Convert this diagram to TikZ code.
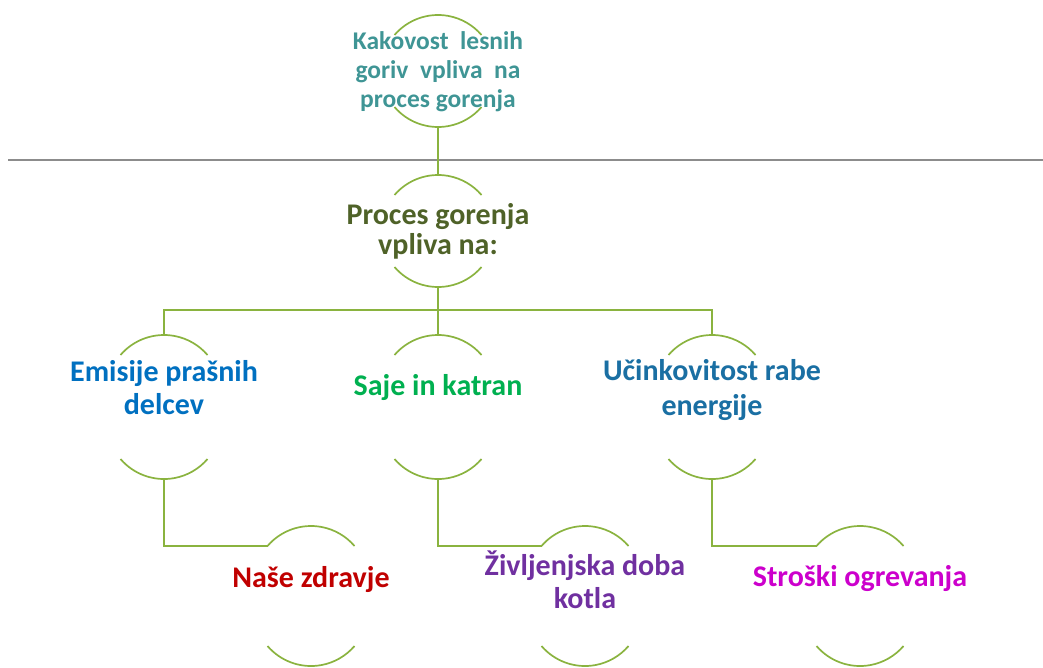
\documentclass[tikz,border=0pt]{standalone}
\usepackage{fontspec}
\setmainfont{Carlito}
\definecolor{lineg}{HTML}{8AB33F}
\definecolor{cteal}{HTML}{3F9595}
\definecolor{colive}{HTML}{4F6228}
\definecolor{cblue}{HTML}{0070C0}
\definecolor{cgreen}{HTML}{00B050}
\definecolor{cpetrol}{HTML}{1A6FA3}
\definecolor{cred}{HTML}{C00000}
\definecolor{cpurple}{HTML}{7030A0}
\definecolor{cmag}{HTML}{CC00CC}
\definecolor{rule}{HTML}{8C8C8C}
\begin{document}
\begin{tikzpicture}[x=1pt,y=-1pt,
  conn/.style={draw=lineg,line width=1.7pt},
  arcs/.style={draw=lineg,line width=1.7pt},
  lbl/.style={align=center,font=\bfseries\fontsize{30}{34}\selectfont,inner sep=0pt}]
\useasboundingbox (0,0) rectangle (1043,667);
% separator
\draw[rule,line width=1.3pt] (8,160) -- (1043,160);
% macro for arc pair: center x, top y, bottom y, name
\newcommand{\arcpair}[4]{%
  \coordinate (#4top) at (#1,#2);
  \coordinate (#4bot) at (#1,#3);
  \coordinate (#4tl) at (#1-43.5,#2+20);
  \coordinate (#4bl) at (#1-43.5,#3-20);
  \draw[arcs] (#4tl) arc[start angle=139.4,end angle=40.6,radius=57.3pt];
  \draw[arcs] (#4bl) arc[start angle=220.6,end angle=319.4,radius=57.3pt];
}
\arcpair{438}{15}{127}{a}
\arcpair{438}{175}{287}{b}
\arcpair{164}{335}{479}{c}
\arcpair{438}{335}{479}{d}
\arcpair{712}{335}{479}{e}
\arcpair{311}{526}{666}{f}
\arcpair{585}{526}{666}{g}
\arcpair{860}{526}{666}{h}
% texts
\node[lbl,text=cteal,font=\bfseries\fontsize{25.5}{29}\selectfont] (ta) at (438,72) {Kakovost\ \ lesnih\\goriv\ \ vpliva\ \ na\\proces gorenja};
\node[lbl,text=colive,font=\bfseries\fontsize{30}{30}\selectfont] (tb) at (438,231) {Proces gorenja\\vpliva na:};
\node[lbl,text=cblue,font=\bfseries\fontsize{30}{33}\selectfont] (tc) at (164,388) {Emisije prašnih\\delcev};
\node[lbl,text=cgreen] (td) at (438,388) {Saje in katran};
\node[lbl,text=cpetrol,font=\bfseries\fontsize{30}{35}\selectfont] (te) at (712,390) {Učinkovitost rabe\\energije};
\node[lbl,text=cred] (tf) at (311,579) {Naše zdravje};
\node[lbl,text=cpurple,font=\bfseries\fontsize{30}{33}\selectfont] (tg) at (585,580) {Življenjska doba\\kotla};
\node[lbl,text=cmag] (th) at (860,579) {Stroški ogrevanja};
% connectors
\coordinate (bar) at (438,310);
\draw[conn] (abot) -- (btop);
\draw[conn] (bbot) -- (bar);
\draw[conn] (ctop) |- (bar) -| (etop);
\draw[conn] (bar) -- (dtop);
\draw[conn] (cbot) |- (ftl);
\draw[conn] (dbot) |- (gtl);
\draw[conn] (ebot) |- (htl);
\end{tikzpicture}
\end{document}
